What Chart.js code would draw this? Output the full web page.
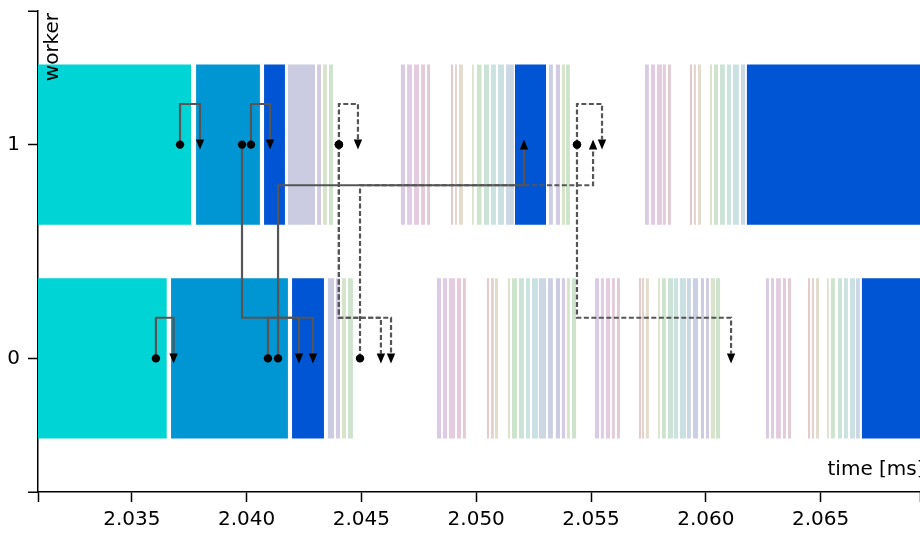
<!DOCTYPE html>
<html>
<head>
<meta charset="utf-8">
<title>worker timeline</title>
<script src="https://cdn.jsdelivr.net/npm/chart.js@4.4.1/dist/chart.umd.min.js"></script>
<style>
  html, body { margin: 0; padding: 0; background: #fff; }
  #wrap { width: 920px; height: 533px; }
</style>
</head>
<body>
<div id="wrap"><canvas id="timeline" width="920" height="533"></canvas></div>
<script>
// tasks of worker 1 (time in ms)
var w1Start = [2.0300, 2.03780, 2.04076, 2.04180, 2.04307, 2.04333, 2.04359, 2.04672, 2.04699, 2.04729,
  2.04760, 2.04786, 2.04890, 2.04908, 2.04925, 2.04982, 2.05003, 2.05034, 2.05064, 2.05095,
  2.05130, 2.05169, 2.05317, 2.05347, 2.05373, 2.05391, 2.05735, 2.05761, 2.05787, 2.05813,
  2.05835, 2.05931, 2.05948, 2.05966, 2.06018, 2.06036, 2.06062, 2.06092, 2.06118, 2.06153, 2.06179];
var w1End = [2.03758, 2.04058, 2.04167, 2.04298, 2.04324, 2.04350, 2.04376, 2.04690, 2.04720, 2.04751,
  2.04777, 2.04799, 2.04899, 2.04916, 2.04942, 2.04990, 2.05023, 2.05056, 2.05086, 2.05121,
  2.05164, 2.05304, 2.05334, 2.05365, 2.05387, 2.05408, 2.05752, 2.05779, 2.05809, 2.05826,
  2.05848, 2.05940, 2.05957, 2.05979, 2.06027, 2.06053, 2.06083, 2.06110, 2.06144, 2.06171, 2.0700];
var w1Kind = ['C', 'B', 'N', 'P1', 'L', 'G1', 'GR', 'V', 'VP', 'PK', 'PK2', 'RS', 'R', 'RT', 'T',
  'YG', 'GR', 'GT', 'TE', 'CY', 'CB', 'N', 'BL', 'L', 'G1', 'GR', 'V', 'VP', 'PK', 'PK2', 'RS',
  'R', 'RT', 'T', 'YG', 'GR', 'GT', 'TE', 'CY', 'CB', 'N'];

// tasks of worker 0
var w0Start = [2.0300, 2.03671, 2.04198, 2.04354, 2.04389, 2.04415, 2.04442, 2.04829, 2.04855, 2.04881,
  2.04916, 2.04942, 2.05047, 2.05064, 2.05082, 2.05138, 2.05156, 2.05186, 2.05217, 2.05243,
  2.05273, 2.05313, 2.05347, 2.05373, 2.05395, 2.05417, 2.05517, 2.05543, 2.05565, 2.05591,
  2.05613, 2.05709, 2.05722, 2.05739, 2.05792, 2.05809, 2.05835, 2.05861, 2.05887, 2.05918,
  2.05944, 2.05979, 2.06001, 2.06022, 2.06044, 2.06262, 2.06284, 2.06306, 2.06336, 2.06358,
  2.06445, 2.06462, 2.06480, 2.06528, 2.06545, 2.06576, 2.06602, 2.06628, 2.06654, 2.06680];
var w0End = [2.03652, 2.04180, 2.04337, 2.04381, 2.04407, 2.04433, 2.04463, 2.04847, 2.04873, 2.04908,
  2.04934, 2.04955, 2.05056, 2.05077, 2.05095, 2.05147, 2.05178, 2.05208, 2.05234, 2.05269,
  2.05304, 2.05334, 2.05365, 2.05387, 2.05408, 2.05435, 2.05535, 2.05556, 2.05583, 2.05604,
  2.05626, 2.05718, 2.05731, 2.05752, 2.05800, 2.05826, 2.05857, 2.05879, 2.05914, 2.05935,
  2.05966, 2.05992, 2.06014, 2.06040, 2.06062, 2.06275, 2.06297, 2.06327, 2.06349, 2.06371,
  2.06454, 2.06471, 2.06493, 2.06536, 2.06562, 2.06593, 2.06619, 2.06650, 2.06671, 2.0700];
var w0Kind = ['C', 'B', 'N', 'P1', 'L', 'G1', 'GR', 'V', 'VP', 'PK', 'PK2', 'RS', 'R', 'RT', 'T',
  'YG', 'GR', 'GT', 'TE', 'CY', 'CB', 'BL', 'P1', 'L', 'G1', 'GR', 'V', 'VP', 'PK', 'PK2', 'RS',
  'R', 'RT', 'T', 'YG', 'GR', 'GT', 'TE', 'CY', 'CB', 'BL', 'P1', 'L', 'G1', 'GR', 'V', 'VP',
  'PK', 'PK2', 'RS', 'R', 'RT', 'T', 'YG', 'GR', 'GT', 'TE', 'CY', 'CB', 'N'];

// dependencies: source (dot) -> target (arrow head)
var depFromTime = [2.03710, 2.04019, 2.03980, 2.04093, 2.04137, 2.03605,
  2.04402, 2.04402, 2.04402, 2.04494, 2.05439, 2.05439];
var depFromWorker = [1, 1, 1, 0, 0, 0, 1, 1, 1, 0, 1, 1];
var depToTime = [2.03797, 2.04102, 2.04228, 2.04289, 2.05208, 2.03682,
  2.04485, 2.04585, 2.04629, 2.05509, 2.05548, 2.06110];
var depToWorker = [1, 1, 0, 0, 1, 0, 1, 0, 0, 1, 1, 0];
var depKind = ['sync', 'sync', 'sync', 'sync', 'sync', 'sync',
  'async', 'async', 'async', 'async', 'async', 'async'];

var xTicks = [2.035, 2.040, 2.045, 2.050, 2.055, 2.060, 2.065];
var xTickLabels = ['2.035', '2.040', '2.045', '2.050', '2.055', '2.060', '2.065'];
var yTicks = [0, 1];
var yTickLabels = ['0', '1'];
var xMin = 2.030915, xMax = 2.069329;
var yMin = -0.625, yMax = 1.625;

var palette = {
  C: '#00d4d4', B: '#0096d4', N: '#0055d4',
  P1: '#cbcce2', L: '#d2cbe3', G1: '#d7e3cb', GR: '#cde3cb',
  V: '#d9cbe3', VP: '#dfcbe3', PK: '#e3cbe0', PK2: '#e3cbda', RS: '#e3cbd3',
  R: '#e3cbcb', RT: '#e3d2cb', T: '#e3dbcb', YG: '#dce3cb', GT: '#cbe3d6',
  TE: '#cbe3de', CY: '#cbe0e3', CB: '#cbd8e3', BL: '#cbcfe3'
};
var FONT = '"DejaVu Sans", sans-serif';

var barData = [];
var barColors = [];
function addWorker(starts, ends, kinds, worker) {
  for (var i = 0; i < starts.length; i++) {
    barData.push({ x: [starts[i], ends[i]], y: worker });
    barColors.push(palette[kinds[i]]);
  }
}
addWorker(w1Start, w1End, w1Kind, 1);
addWorker(w0Start, w0End, w0Kind, 0);

// arrows, axis end ticks and axis titles
var decor = {
  id: 'decor',
  afterDatasetsDraw: function (chart) {
    var ctx = chart.ctx;
    var xs = chart.scales.x, ys = chart.scales.y;
    var bend = 0.19, head = 5;
    ctx.save();
    for (var i = 0; i < depFromTime.length; i++) {
      var route = depFromWorker[i] >= depToWorker[i] ? depToWorker[i] + bend : depToWorker[i] - bend;
      var sx = xs.getPixelForValue(depFromTime[i]);
      var sy = ys.getPixelForValue(depFromWorker[i]);
      var tx = xs.getPixelForValue(depToTime[i]);
      var ty = ys.getPixelForValue(depToWorker[i]);
      var ry = ys.getPixelForValue(route);
      var dir = ry < ty ? 1 : -1;

      ctx.strokeStyle = '#555555';
      ctx.lineWidth = 2.2;
      ctx.lineJoin = 'miter';
      ctx.setLineDash(depKind[i] === 'async' ? [5, 2.5] : []);
      ctx.beginPath();
      ctx.moveTo(sx, sy);
      ctx.lineTo(sx, ry);
      ctx.lineTo(tx, ry);
      ctx.lineTo(tx, ty - dir * head);
      ctx.stroke();
      ctx.setLineDash([]);

      ctx.fillStyle = '#000';
      ctx.beginPath();
      ctx.moveTo(tx - 4.2, ty - dir * head);
      ctx.lineTo(tx + 4.2, ty - dir * head);
      ctx.lineTo(tx, ty + dir * head);
      ctx.closePath();
      ctx.fill();

      ctx.beginPath();
      ctx.arc(sx, sy, 4.2, 0, Math.PI * 2);
      ctx.fill();
    }
    ctx.restore();
  },
  afterDraw: function (chart) {
    var ctx = chart.ctx;
    var area = chart.chartArea;
    var ys = chart.scales.y;
    ctx.save();
    ctx.strokeStyle = '#000';
    ctx.lineWidth = 1.5;
    [yMin, yMax].forEach(function (v) {
      var py = Math.round(ys.getPixelForValue(v)) + 0.25;
      ctx.beginPath();
      ctx.moveTo(area.left - 10, py);
      ctx.lineTo(area.left, py);
      ctx.stroke();
    });
    ctx.fillStyle = '#000';
    ctx.font = '20px ' + FONT;
    ctx.textBaseline = 'alphabetic';
    ctx.textAlign = 'left';
    ctx.fillText('time [ms]', area.right - 92.5, area.bottom - 17);
    ctx.translate(area.left + 20, area.top + 2);
    ctx.rotate(-Math.PI / 2);
    ctx.textAlign = 'right';
    ctx.fillText('worker', 0, 0);
    ctx.restore();
  }
};

new Chart(document.getElementById('timeline'), {
  type: 'bar',
  data: {
    datasets: [{
      data: barData,
      backgroundColor: barColors,
      borderWidth: 0,
      borderSkipped: false,
      barPercentage: 0.75,
      categoryPercentage: 1,
      grouped: false
    }]
  },
  options: {
    indexAxis: 'y',
    responsive: false,
    animation: false,
    events: [],
    layout: { padding: { top: 11, left: 0, right: 0, bottom: 0 } },
    plugins: {
      legend: { display: false },
      tooltip: { enabled: false },
      title: { display: false }
    },
    scales: {
      x: {
        type: 'linear',
        min: xMin,
        max: xMax,
        offset: false,
        grid: { drawOnChartArea: false, tickLength: 10, tickColor: '#000', tickWidth: 1.5, offset: false },
        border: { color: '#000', width: 1.5 },
        ticks: {
          autoSkip: false,
          maxRotation: 0,
          color: '#000',
          padding: 6,
          font: { family: FONT, size: 20 },
          callback: function (value, index) {
            if (index === 0 || index > xTicks.length) return '';
            return xTickLabels[index - 1];
          }
        },
        afterBuildTicks: function (scale) {
          scale.ticks = [xMin].concat(xTicks, [xMax]).map(function (v) { return { value: v }; });
        },
        afterFit: function (scale) {
          scale.height = 41;
          scale.paddingLeft = 0;
          scale.paddingRight = 0;
        }
      },
      y: {
        type: 'linear',
        min: yMin,
        max: yMax,
        offset: false,
        grid: { drawOnChartArea: false, tickLength: 10, tickColor: '#000', tickWidth: 1.5, offset: false },
        border: { color: '#000', width: 1.5 },
        ticks: {
          autoSkip: false,
          color: '#000',
          padding: 8,
          font: { family: FONT, size: 20 },
          callback: function (value, index) {
            return yTickLabels[index];
          }
        },
        afterBuildTicks: function (scale) {
          scale.ticks = yTicks.map(function (v) { return { value: v }; });
        },
        afterFit: function (scale) {
          scale.width = 38;
          scale.paddingTop = 0;
          scale.paddingBottom = 0;
        }
      }
    }
  },
  plugins: [decor]
});
</script>
</body>
</html>
